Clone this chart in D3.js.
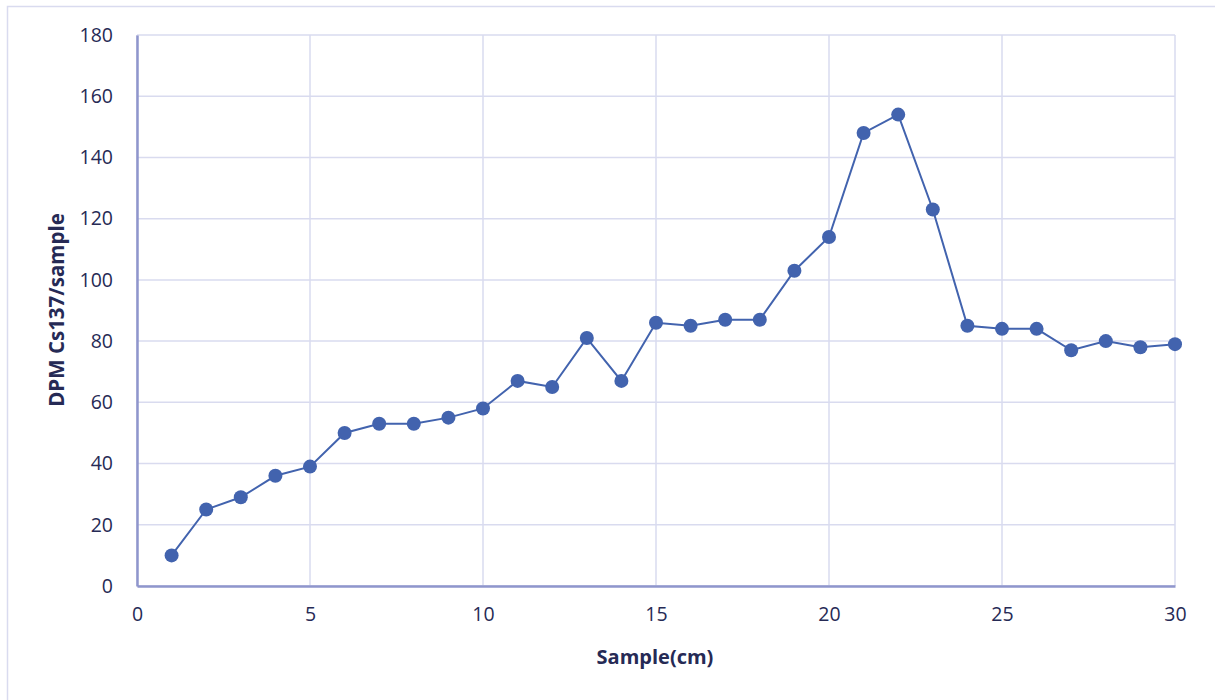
<!DOCTYPE html>
<html>
<head>
<meta charset="utf-8">
<script src="https://cdn.jsdelivr.net/npm/d3@7"></script>
<style>
  html, body { margin: 0; padding: 0; background: #fff; }
  svg { display: block; }
  text { font-family: "Open Sans", "Noto Sans", sans-serif; fill: #262a55; }
</style>
</head>
<body>
<svg id="chart" width="1215" height="700"></svg>
<script>
const samples = [1,2,3,4,5,6,7,8,9,10,11,12,13,14,15,16,17,18,19,20,21,22,23,24,25,26,27,28,29,30];
const dpmValues = [10,25,29,36,39,50,53,53,55,58,67,65,81,67,86,85,87,87,103,114,148,154,123,85,84,84,77,80,78,79];
const xTicks = [0,5,10,15,20,25,30];
const yTicks = [0,20,40,60,80,100,120,140,160,180];
const xTitle = "Sample(cm)";
const yTitle = "DPM Cs137/sample";

const svg = d3.select("#chart");
const W = 1215, H = 700;
const m = {left: 137, right: 40, top: 35, bottom: 114};

// outer frame
svg.append("rect").attr("x", 7.5).attr("y", 6.5).attr("width", W).attr("height", H)
  .attr("fill", "#fff").attr("stroke", "#d9dbef").attr("stroke-width", 1.5);

const x = d3.scaleLinear().domain([0, 30]).range([m.left, W - m.right]);
const y = d3.scaleLinear().domain([0, 180]).range([H - m.bottom, m.top]);

const grid = svg.append("g");
grid.selectAll("line.h").data(yTicks).join("line")
  .attr("x1", x(0)).attr("x2", x(30))
  .attr("y1", d => y(d)).attr("y2", d => y(d))
  .attr("stroke", "#d9dbef").attr("stroke-width", 1.5);
grid.selectAll("line.v").data(xTicks).join("line")
  .attr("y1", y(0)).attr("y2", y(180))
  .attr("x1", d => x(d)).attr("x2", d => x(d))
  .attr("stroke", "#d9dbef").attr("stroke-width", 1.5);

// axes
const yAxis = svg.append("g").attr("transform", `translate(${x(0)},0)`)
  .call(d3.axisLeft(y).tickValues(yTicks).tickSize(0).tickPadding(24));
yAxis.select(".domain").attr("stroke", "#8f96cc").attr("stroke-width", 2.5);
yAxis.selectAll("text").style("font-size", "19.5px").attr("fill", "#262a55");

const xAxis = svg.append("g").attr("transform", `translate(0,${y(0)})`)
  .call(d3.axisBottom(x).tickValues(xTicks).tickSize(0).tickPadding(21));
xAxis.select(".domain").attr("stroke", "#8f96cc").attr("stroke-width", 2.5);
xAxis.selectAll("text").style("font-size", "19.5px").attr("fill", "#262a55");

// axis titles
svg.append("text").attr("x", 655).attr("y", 664).attr("text-anchor", "middle")
  .style("font-size", "20px").style("font-weight", "bold").text(xTitle);
svg.append("text").attr("transform", "translate(64,310) rotate(-90)")
  .attr("text-anchor", "middle").style("font-size", "20.5px").style("font-weight", "bold").text(yTitle);

// series
const data = samples.map((s, i) => ({s, v: dpmValues[i]}));
svg.append("path").datum(data)
  .attr("fill", "none").attr("stroke", "#4263ae").attr("stroke-width", 2)
  .attr("d", d3.line().x(d => x(d.s)).y(d => y(d.v)));
svg.append("g").selectAll("circle").data(data).join("circle")
  .attr("cx", d => x(d.s)).attr("cy", d => y(d.v)).attr("r", 7)
  .attr("fill", "#4263ae");
</script>
</body>
</html>
